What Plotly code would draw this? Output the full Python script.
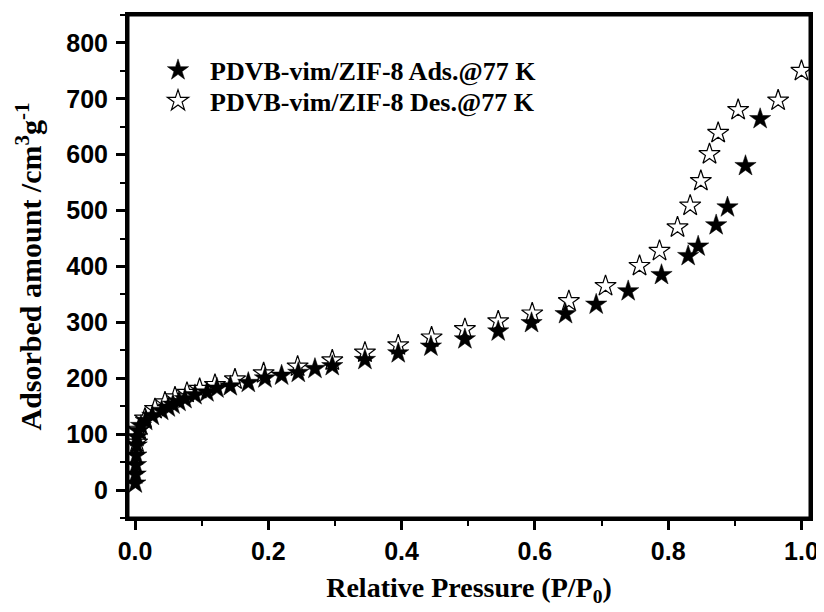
import plotly.graph_objects as go

ads_x = [0.0005, 0.001, 0.0015, 0.002, 0.0025, 0.003, 0.005, 0.009, 0.016, 0.026, 0.04, 0.05,
         0.057, 0.066, 0.075, 0.09, 0.108, 0.123, 0.143, 0.17, 0.195, 0.22, 0.245, 0.27, 0.296,
         0.345, 0.395, 0.444, 0.495, 0.545, 0.595, 0.646, 0.692, 0.74, 0.79, 0.83, 0.845, 0.872,
         0.889, 0.916, 0.938]
ads_y = [12, 28, 45, 62, 80, 95, 106, 115, 124, 133, 142, 148,
         153, 158, 163, 170, 175, 182, 186, 192, 200, 205, 210, 217, 222,
         233, 245, 257, 270, 284, 299, 315, 332, 356, 385, 419, 436, 474,
         506, 580, 664]

des_x = [1.0, 0.965, 0.905, 0.875, 0.862, 0.849, 0.833, 0.814, 0.787, 0.757, 0.706, 0.651,
         0.596, 0.545, 0.495, 0.445, 0.395, 0.345, 0.296, 0.244, 0.193, 0.15, 0.12, 0.097,
         0.078, 0.06, 0.045, 0.03, 0.015, 0.006, 0.003]
des_y = [750, 697, 680, 639, 601, 553, 509, 470, 428, 401, 365, 338,
         316, 302, 288, 273, 259, 246, 232, 221, 209, 198, 188, 181,
         174, 166, 157, 145, 128, 108, 85]

x_ticks = [0.0, 0.2, 0.4, 0.6, 0.8, 1.0]
y_ticks = [0, 100, 200, 300, 400, 500, 600, 700, 800]

ads_name = "PDVB-vim/ZIF-8 Ads.@77 K"
des_name = "PDVB-vim/ZIF-8 Des.@77 K"

fig = go.Figure()
fig.add_trace(go.Scatter(
    x=des_x, y=des_y, mode="markers", name=des_name, legend="legend2", showlegend=True,
    marker=dict(symbol="star", size=16, color="white", line=dict(color="black", width=1.2)),
))
fig.add_trace(go.Scatter(
    x=ads_x, y=ads_y, mode="markers", name=ads_name, legend="legend", showlegend=True,
    marker=dict(symbol="star", size=16, color="black", line=dict(color="black", width=0.5)),
))

axis_common = dict(
    showline=True, linecolor="black", linewidth=3, mirror=True,
    ticks="outside", ticklen=9, tickwidth=2.5, tickcolor="black",
    showgrid=False, zeroline=False, automargin=False,
    tickfont=dict(family="Liberation Sans", size=25, color="black", weight="bold"),
)

fig.update_xaxes(
    range=[-0.0105, 1.0128], tickvals=x_ticks, ticktext=[f"{v:.1f}" for v in x_ticks],
    minor=dict(dtick=0.1, ticklen=5, tickwidth=2, tickcolor="black", ticks="outside"),
    title=dict(text="Relative Pressure (P/P<sub>0</sub>)", standoff=14,
               font=dict(family="Liberation Serif", size=28, color="black", weight="bold")),
    **axis_common,
)
fig.update_yaxes(
    range=[-50, 850], tickvals=y_ticks, ticklabelstandoff=3,
    minor=dict(dtick=50, ticklen=5, tickwidth=2, tickcolor="black", ticks="outside"),
    title=dict(text="Adsorbed amount /cm<sup>3</sup>g<sup>-1</sup>", standoff=16,
               font=dict(family="Liberation Serif", size=30, color="black", weight="bold")),
    **axis_common,
)

fig.add_shape(type="rect", xref="x domain", yref="y domain", x0=0, x1=1, y0=0, y1=1,
              line=dict(color="black", width=3), fillcolor="rgba(0,0,0,0)", layer="above")

legend_font = dict(family="Liberation Serif", size=26, color="black", weight="bold")
fig.update_layout(
    width=816, height=604,
    margin=dict(l=120, r=14, t=7, b=94),
    plot_bgcolor="white", paper_bgcolor="white",
    showlegend=True,
    legend=dict(x=0.0264, y=0.937, xanchor="left", yanchor="top", bgcolor="rgba(0,0,0,0)",
                borderwidth=0, font=legend_font, itemsizing="trace", itemwidth=54, visible=True),
    legend2=dict(x=0.0264, y=0.876, xanchor="left", yanchor="top", bgcolor="rgba(0,0,0,0)",
                 borderwidth=0, font=legend_font, itemsizing="trace", itemwidth=54, visible=True),
)

fig.write_html("out.html")
